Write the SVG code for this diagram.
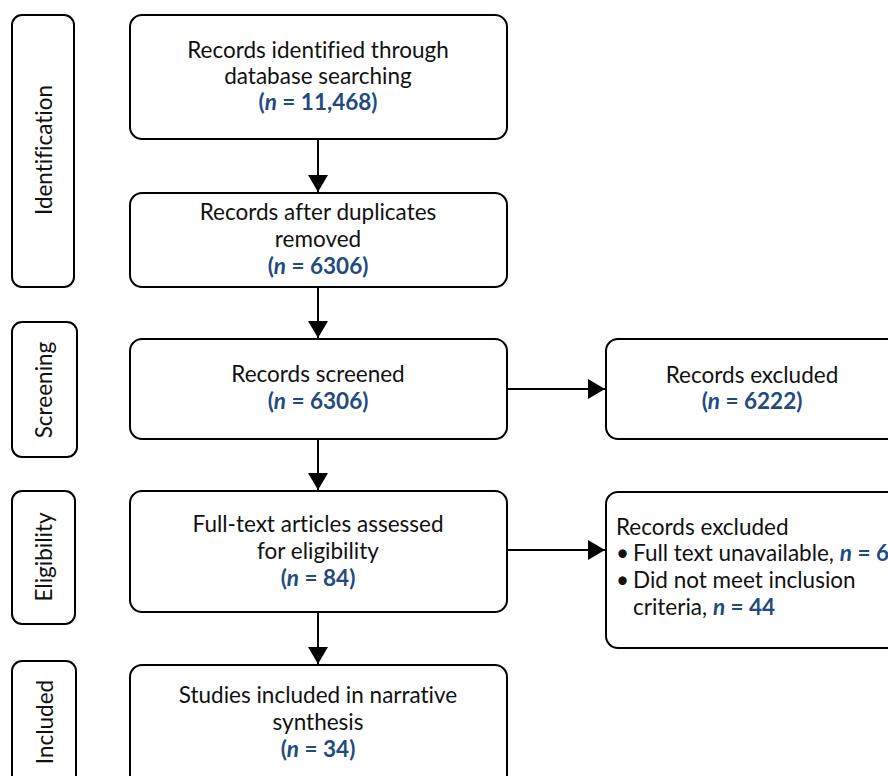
<svg xmlns="http://www.w3.org/2000/svg" width="888" height="776" viewBox="0 0 888 776">
  <defs>
    <marker id="arrow" viewBox="0 0 17 20" refX="17" refY="10" markerWidth="17" markerHeight="20" markerUnits="userSpaceOnUse" orient="auto">
      <path d="M0,0 L17,10 L0,20 Z" fill="#000"/>
    </marker>
    <style>
      .box { fill: #fff; stroke: #000; stroke-width: 2; }
      .t { font-family: Lato, "Open Sans", "Liberation Sans", sans-serif; font-size: 22.5px; fill: #111; font-variant-ligatures: none; }
      .c { text-anchor: middle; }
      .n { font-weight: bold; fill: #234a7f; }
      .i { font-style: italic; }
      .conn { stroke: #000; stroke-width: 2; fill: none; }
    </style>
  </defs>

  <!-- phase labels -->
  <g id="phase-identification">
    <rect class="box" x="12" y="15" width="62" height="272" rx="10"/>
    <text class="t c" transform="translate(52,150) rotate(-90)">Identification</text>
  </g>
  <g id="phase-screening">
    <rect class="box" x="12" y="322" width="65" height="135" rx="10"/>
    <text class="t c" transform="translate(52,390) rotate(-90)">Screening</text>
  </g>
  <g id="phase-eligibility">
    <rect class="box" x="12" y="491" width="63" height="133" rx="10"/>
    <text class="t c" transform="translate(52,557) rotate(-90)">Eligibility</text>
  </g>
  <g id="phase-included">
    <rect class="box" x="12" y="661" width="64" height="130" rx="10"/>
    <text class="t c" transform="translate(53,722) rotate(-90)">Included</text>
  </g>

  <!-- main flow -->
  <g id="identified">
    <rect class="box" x="130" y="15" width="377" height="124" rx="12"/>
    <text class="t c" x="318" y="58">Records identified through</text>
    <text class="t c" x="318" y="84">database searching</text>
    <text class="t c n" x="318" y="110">(<tspan class="i">n</tspan> = 11,468)</text>
  </g>
  <g id="deduplicated">
    <rect class="box" x="130" y="193" width="377" height="94" rx="12"/>
    <text class="t c" x="318" y="220">Records after duplicates</text>
    <text class="t c" x="318" y="247">removed</text>
    <text class="t c n" x="318" y="274">(<tspan class="i">n</tspan> = 6306)</text>
  </g>
  <g id="screened">
    <rect class="box" x="130" y="339" width="377" height="100" rx="12"/>
    <text class="t c" x="318" y="382">Records screened</text>
    <text class="t c n" x="318" y="409">(<tspan class="i">n</tspan> = 6306)</text>
  </g>
  <g id="fulltext">
    <rect class="box" x="130" y="491" width="377" height="121" rx="12"/>
    <text class="t c" x="318" y="532">Full-text articles assessed</text>
    <text class="t c" x="318" y="559">for eligibility</text>
    <text class="t c n" x="318" y="586">(<tspan class="i">n</tspan> = 84)</text>
  </g>
  <g id="included">
    <rect class="box" x="130" y="665" width="377" height="130" rx="12"/>
    <text class="t c" x="318" y="703">Studies included in narrative</text>
    <text class="t c" x="318" y="730">synthesis</text>
    <text class="t c n" x="318" y="757">(<tspan class="i">n</tspan> = 34)</text>
  </g>

  <!-- exclusion boxes -->
  <g id="excluded-screening">
    <rect class="box" x="606" y="339" width="300" height="100" rx="12"/>
    <text class="t c" x="752" y="383">Records excluded</text>
    <text class="t c n" x="752" y="409">(<tspan class="i">n</tspan> = 6222)</text>
  </g>
  <g id="excluded-eligibility">
    <rect class="box" x="606" y="492" width="300" height="156" rx="12"/>
    <text class="t" x="616" y="535">Records excluded</text>
    <text class="t" x="616" y="561">•</text>
    <text class="t" x="633" y="561">Full text unavailable, <tspan class="n"><tspan class="i">n</tspan> = 6</tspan></text>
    <text class="t" x="616" y="588">•</text>
    <text class="t" x="633" y="588">Did not meet inclusion</text>
    <text class="t" x="633" y="615">criteria, <tspan class="n"><tspan class="i">n</tspan> = 44</tspan></text>
  </g>

  <!-- connectors -->
  <g id="connectors">
    <line class="conn" x1="318" y1="139" x2="318" y2="192" marker-end="url(#arrow)"/>
    <line class="conn" x1="318" y1="287" x2="318" y2="338" marker-end="url(#arrow)"/>
    <line class="conn" x1="318" y1="439" x2="318" y2="490" marker-end="url(#arrow)"/>
    <line class="conn" x1="318" y1="612" x2="318" y2="664" marker-end="url(#arrow)"/>
    <line class="conn" x1="507" y1="389" x2="605" y2="389" marker-end="url(#arrow)"/>
    <line class="conn" x1="507" y1="550" x2="605" y2="550" marker-end="url(#arrow)"/>
  </g>
</svg>
